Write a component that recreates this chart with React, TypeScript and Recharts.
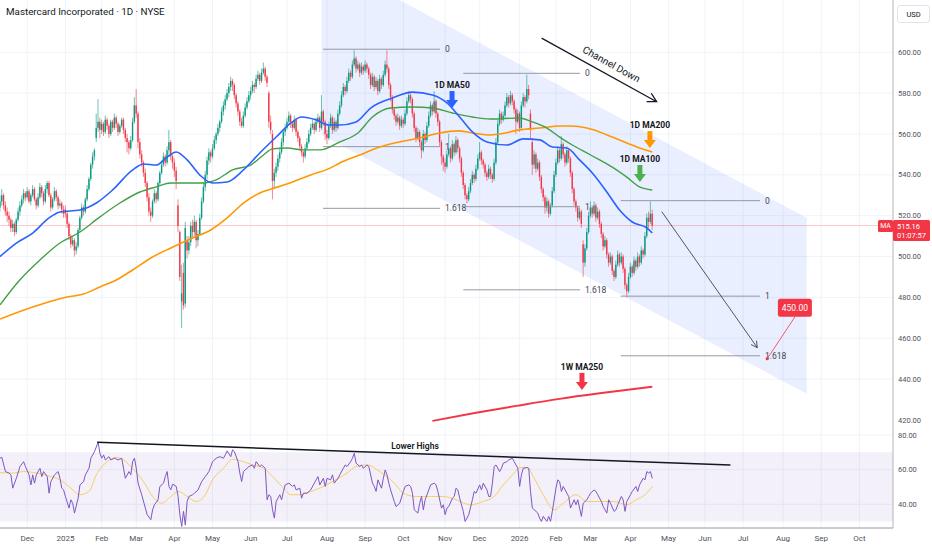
import React from "react";
import {
  ComposedChart,
  Bar,
  Line,
  Area,
  XAxis,
  YAxis,
  CartesianGrid,
  ReferenceLine,
  ReferenceDot,
  ReferenceArea,
} from "recharts";

type Candle = [number, number, number, number];

// daily candles [open, high, low, close], one array per month
const nov24: Candle[] = [
  [524,530,522,527],[527,533,525,530],[530,531,523,525],[525,527,520,522],[522,524,517,520],[520,522,515,518],[518,519,512,514],[514,518,512,516],[516,517,510,512],[512,519,511,518],[518,524,517,522],[522,527,520,525],[525,530,524,528],[528,533,526,531],[531,532,527,529],
];
const dec24: Candle[] = [
  [529,534,528,532],[532,533,526,527],[527,531,525,530],[530,535,529,533],[533,534,527,528],[528,529,523,525],[525,531,524,529],[529,536,528,534],[534,535,529,531],[531,532,525,527],[527,535,526,533],[533,537,531,536],[536,537,529,530],[530,531,522,524],[524,529,523,528],[528,534,527,532],[532,533,527,529],[529,530,523,525],[525,528,524,526],[526,527,521,523],[523,525,519,521],
];
const jan25: Candle[] = [
  [523,525,519,521],[521,522,514,516],[516,517,508,510],[510,511,504,506],[506,510,505,508],[508,509,500,503],[503,507,501,505],[505,514,504,513],[513,520,512,519],[519,526,518,524],[524,525,520,522],[522,529,521,528],[528,535,527,533],[533,539,532,538],[538,546,537,545],[545,551,543,549],[549,553,547,552],[558,570,556,563],[563,577,561,566],[566,568,558,562],
];
const feb25: Candle[] = [
  [562,567,560,565],[565,566,559,561],[561,569,560,567],[567,568,562,564],[564,565,558,560],[560,567,559,566],[566,567,561,563],[563,570,562,568],[568,569,563,565],[565,566,559,561],[561,565,560,564],[564,568,563,567],[567,568,560,562],[562,563,556,558],[558,560,551,556],[556,557,550,553],[553,559,552,557],[557,568,556,566],[566,578,565,574],
];
const mar25: Candle[] = [
  [574,582,568,570],[570,571,553,556],[556,558,548,550],[550,552,544,546],[546,547,539,541],[541,543,534,536],[536,537,527,529],[529,531,520,522],[522,524,517,520],[520,528,519,527],[527,533,526,531],[531,532,526,528],[528,537,527,536],[536,542,535,541],[541,547,540,545],[545,551,544,549],[549,550,544,546],[546,554,545,552],[552,562,550,556],[556,557,547,549],[549,550,543,546],
];
const apr25: Candle[] = [
  [546,548,539,542],[542,544,533,537],[525,528,512,515],[512,513,488,490],[478,496,465,482],[492,497,474,476],[477,517,475,514],[508,510,499,503],[503,510,501,507],[507,517,505,515],[515,518,509,512],[512,520,510,517],[517,518,504,508],[508,513,505,511],[511,521,510,519],[519,529,518,527],[527,536,526,534],[534,542,532,540],[540,549,538,547],[547,553,545,551],[551,552,546,549],
];
const may25: Candle[] = [
  [549,555,548,553],[553,559,552,557],[557,561,555,560],[560,565,559,563],[563,567,561,566],[566,573,565,571],[571,576,569,574],[574,579,572,577],[577,582,576,580],[580,585,578,583],[583,588,581,586],[586,587,581,584],[584,585,577,579],[579,580,573,575],[575,576,569,571],[571,572,564,566],[566,568,563,564],[564,571,563,569],[569,575,568,573],[573,578,572,576],[576,581,575,579],
];
const jun25: Candle[] = [
  [579,583,577,581],[581,586,580,584],[584,585,580,583],[583,589,582,587],[587,591,586,589],[589,590,584,586],[586,592,585,590],[590,595,589,592],[592,593,586,588],[588,589,583,585],[580,581,563,566],[566,569,560,562],[560,562,528,537],[537,543,533,541],[541,546,539,544],[544,550,542,548],[548,553,546,551],[551,558,550,556],[556,562,554,561],[561,565,559,563],
];
const jul25: Candle[] = [
  [563,568,562,566],[566,571,565,569],[569,570,563,565],[565,566,561,563],[563,569,562,567],[567,568,559,561],[561,562,556,558],[558,559,552,554],[554,555,549,551],[551,552,546,549],[549,555,548,553],[553,558,552,556],[556,562,555,560],[560,565,559,563],[563,567,562,565],[565,566,560,562],[562,568,561,566],[566,570,565,568],[568,569,561,563],[563,579,562,571],[571,572,564,566],[566,567,557,560],
];
const aug25: Candle[] = [
  [560,562,555,558],[558,566,557,564],[564,570,563,568],[568,569,560,562],[562,568,561,566],[566,567,561,563],[563,572,562,570],[570,576,569,574],[574,581,573,579],[579,585,578,583],[583,584,579,581],[581,588,580,586],[586,592,585,590],[590,591,586,588],[588,596,587,594],[594,601,593,597],[597,598,590,592],[592,596,591,594],[594,595,588,590],[590,595,589,593],[593,594,589,591],
];
const sep25: Candle[] = [
  [591,596,590,594],[594,595,590,592],[592,593,587,589],[589,590,582,584],[584,590,583,588],[588,589,581,583],[583,588,582,586],[586,587,579,581],[581,589,580,587],[587,588,582,584],[584,591,583,589],[589,596,588,594],[594,601,590,592],[592,593,582,584],[584,585,576,578],[578,579,570,572],[572,573,567,569],[569,570,564,566],[566,570,565,568],[568,569,562,564],[564,569,563,567],
];
const oct25: Candle[] = [
  [567,568,563,565],[565,572,564,570],[570,578,569,576],[576,581,575,579],[579,580,575,577],[577,578,568,570],[570,571,561,563],[563,564,556,558],[558,563,557,561],[561,562,554,556],[556,557,548,552],[552,562,551,560],[560,561,555,557],[557,566,556,564],[564,571,563,569],[569,576,568,574],[574,575,569,571],[571,581,570,576],[576,577,568,570],[570,571,564,566],[566,567,554,556],[556,557,545,549],[549,550,542,546],
];
const nov25: Candle[] = [
  [546,548,541,544],[544,552,543,550],[550,560,549,553],[553,554,546,548],[548,557,547,555],[555,556,549,551],[551,559,550,557],[557,558,551,553],[553,554,546,548],[548,549,539,541],[541,542,533,535],[535,536,528,530],[530,531,526,528],[528,534,527,532],[532,538,531,536],[536,542,535,540],[540,541,536,538],[538,545,537,543],[543,550,542,548],
];
const dec25: Candle[] = [
  [548,556,547,551],[551,552,545,547],[547,548,543,545],[545,546,539,541],[541,542,537,539],[539,545,538,543],[543,544,538,540],[540,541,536,538],[538,548,537,546],[546,558,545,556],[556,567,555,565],[565,572,564,570],[570,571,565,567],[567,571,566,569],[569,576,568,574],[574,580,573,578],[578,579,573,575],[575,581,574,579],[579,580,574,576],[576,577,570,572],[572,573,560,566],[566,572,565,570],
];
const jan26: Candle[] = [
  [570,571,561,563],[563,576,562,574],[574,580,573,578],[578,579,573,576],[576,589,575,582],[582,584,577,579],[570,572,558,562],[556,558,540,545],[545,552,543,550],[550,551,541,543],[543,548,542,546],[546,547,537,539],[539,540,531,533],[533,534,527,529],[529,530,521,524],[524,529,522,527],[527,528,519,521],[521,526,520,525],[525,534,524,532],[532,542,531,540],
];
const feb26: Candle[] = [
  [540,548,539,546],[546,554,545,552],[552,553,546,548],[548,559,547,555],[555,556,548,550],[550,551,544,546],[546,554,545,552],[552,553,546,548],[548,549,539,541],[541,542,531,533],[533,534,525,527],[527,528,522,524],[524,525,517,519],[519,524,518,522],[522,523,514,516],[506,508,490,497],[497,506,495,504],[504,514,503,512],[512,522,511,520],
];
const mar26: Candle[] = [
  [520,527,519,524],[524,525,519,521],[521,527,520,525],[525,526,517,519],[519,524,518,522],[522,523,514,516],[516,517,509,511],[511,512,503,505],[505,510,504,508],[508,509,499,501],[501,502,495,497],[497,502,496,500],[500,501,491,493],[493,494,488,490],[490,498,489,496],[496,503,495,501],[501,502,495,497],[497,502,496,500],[500,501,492,494],[494,495,484,486],[486,487,480,483],[483,492,482,490],
];
const apr26: Candle[] = [
  [490,497,489,495],[495,496,490,492],[492,500,491,498],[498,499,493,495],[495,502,494,500],[500,501,495,497],[497,505,496,503],[503,504,499,501],[501,512,500,510],[510,521,509,519],[519,522,514,517],[517,527,516,521],[521,523,513,515.16],
];

const candles: Candle[] = [
  ...nov24, ...dec24, ...jan25, ...feb25, ...mar25, ...apr25, ...may25, ...jun25, ...jul25,
  ...aug25, ...sep25, ...oct25, ...nov25, ...dec25, ...jan26, ...feb26, ...mar26, ...apr26,
];

// moving averages as [bar, value]
const ma50 = [
  [0,500.0],[9,506.6],[18,511.5],[27,518.9],[33,521.8],[44,522.8],[53,526.2],[62,532.6],[73,542.4],[79,545.3],[86,544.8],[92,548.7],[97,551.2],[103,547.3],[110,539.9],[117,536.0],[125,536.5],[134,542.4],[143,550.7],[152,558.5],[160,565.3],[166,568.3],[174,566.9],[181,564.4],[187,564.4],[196,565.9],[204,572.7],[216,577.6],[227,580.5],[238,579.1],[246,575.2],[253,568.3],[260,561.0],[268,556.1],[279,554.6],[288,557.6],[297,557.1],[304,553.6],[312,553.1],[319,547.3],[326,540.9],[334,531.6],[341,522.8],[348,516.9],[356,514.0],[359,511.5],
];
const ma100 = [
  [0,476.3],[11,488.6],[22,498.3],[33,506.6],[44,512.0],[55,519.4],[66,526.2],[77,531.6],[86,534.1],[94,536.0],[104,536.0],[112,536.0],[119,537.5],[128,542.4],[138,544.8],[145,549.7],[150,552.7],[158,553.1],[167,552.2],[176,552.2],[187,556.1],[197,560.5],[205,568.3],[215,572.7],[227,573.2],[238,572.7],[249,570.3],[260,568.3],[270,567.3],[286,567.8],[293,565.9],[301,562.9],[308,558.5],[315,554.6],[323,550.7],[330,547.3],[337,543.8],[345,538.9],[352,534.1],[359,532.6],
];
const ma200 = [
  [0,469.4],[18,475.3],[37,480.2],[46,481.6],[55,485.1],[64,488.5],[73,493.4],[83,499.3],[94,504.2],[106,509.1],[116,513.0],[125,518.9],[134,526.2],[143,531.1],[153,534.1],[161,536.5],[171,539.9],[182,543.4],[187,545.8],[198,549.7],[209,553.6],[220,556.1],[231,558.0],[242,560.5],[252,561.5],[260,560.5],[270,559.5],[275,560.0],[286,562.0],[297,562.9],[308,563.9],[315,563.9],[323,562.9],[330,561.0],[337,558.5],[345,555.6],[352,553.1],[359,551.2],
];
const ma250w = [
  [238,419.5],[262,423.5],[285,427.0],[308,430.3],[330,433.0],[359,436.2],
];

// RSI(14) and its moving average as [bar, value]
const rsi = [
  [0,66.6],[1,67.1],[3,58.9],[5,58],[6,57],[7,49.3],[9,55],[11,61.8],[13,64.6],[14,61.8],[16,57],[17,51.2],[18,57],[19,52.2],[20,57],[22,60.8],[23,56],[24,58.9],[26,56],[27,46.4],[28,53.1],[30,57],[32,58.9],[33,55],[34,49.3],[35,48.3],[36,44.5],[38,37.8],[39,42.6],[40,40.6],[41,34.9],[43,43.5],[44,51.2],[46,53.1],[47,57],[49,60.8],[50,66.6],[51,68.5],[52,70.4],[54,75.8],[55,69.4],[56,66.6],[57,68.5],[58,65.6],[60,67.5],[61,65.6],[63,66.6],[65,65.6],[67,66.6],[68,60.8],[69,55],[71,58.9],[72,57],[73,64.6],[74,66.6],[75,60.8],[76,52.2],[78,45.5],[80,37.8],[81,34],[83,31.1],[84,36.8],[85,39.7],[87,42.6],[88,50.3],[90,52.2],[91,56],[92,58.9],[93,50.3],[94,48.3],[95,51.6],[97,50.3],[98,44.5],[99,34],[100,27.2],[101,35.9],[102,28],[103,41.6],[104,44.5],[106,45.5],[107,46.4],[109,48.3],[111,53.1],[113,56],[115,58.9],[116,61.8],[117,64.6],[119,66.6],[121,67.5],[123,66.6],[124,68.5],[125,70.8],[127,67.5],[128,71.4],[129,70.4],[131,64.6],[132,58],[133,53.1],[134,58.9],[136,60.8],[137,61.8],[139,62.7],[140,60.8],[141,64.6],[143,61.8],[144,62.7],[146,60.8],[147,42.6],[148,45.5],[149,44.5],[150,36.8],[151,32],[152,41.6],[154,45.5],[155,42.6],[156,47.4],[157,51.2],[159,52.2],[161,50.3],[162,51.2],[163,48.3],[165,49.3],[166,43.5],[167,46.4],[169,46.4],[171,48.3],[173,52.2],[174,54.1],[175,56],
  [176,51.2],[178,55],[179,50.3],[180,55],[182,54.1],[183,57],[184,52.2],[186,55],[187,57],[189,60.8],[190,62.7],[191,61.8],[193,64.6],[194,66.6],[195,69.4],[196,63.7],[198,61.8],[199,62.7],[200,60.8],[202,62.7],[203,61.8],[205,52.2],[206,50.3],[207,47.4],[208,54.1],[210,49.3],[211,55],[212,59.8],[213,57],[214,52.2],[215,48.3],[217,41.6],[218,38.7],[220,40.6],[222,47.4],[223,50.3],[225,51.2],[226,50.3],[227,46.4],[228,36.8],[230,34.9],[231,40.6],[232,44.5],[233,36.8],[234,42.6],[236,48.3],[237,51.2],[239,52.2],[240,51.2],[241,47.4],[243,37.8],[244,39.7],[245,34],[246,37.8],[247,38.7],[249,43.5],[250,44.5],[251,49.3],[252,48.3],[253,43.5],[255,35.9],[256,30.1],[257,32],[258,34],[260,42.6],[261,47.4],[262,46.4],[264,51.2],[265,48.3],[266,52.2],[268,48.3],[269,44.5],[270,44.5],[271,52.2],[272,61.8],[273,62.7],[275,58.9],[276,60.8],[277,63.7],[279,64.6],[280,65.6],[282,66.6],[283,64.6],[284,62.7],[285,60.8],[286,50.3],[287,57],[288,60.8],[290,61.2],[291,60.8],[292,47.4],[293,37.8],[295,35.9],[296,34.9],[297,32],[298,30.1],[299,33],[301,30.1],[302,33],[303,30.1],[304,35.9],[306,49.3],[307,54.1],[308,53.1],[309,47.4],[310,50.3],[312,46.4],[313,44.5],[314,37.8],[316,42.6],[317,39.7],[318,42.6],[320,33],[321,40.6],[323,42.6],[324,44.5],[325,46.4],[327,48.3],[328,47.4],[329,45.5],[331,41.6],[332,38.7],[334,34.9],[335,42.6],[336,40.6],[338,35.9],[339,36.8],[340,39.7],[342,44.5],[343,42.6],[344,35.9],[345,41.6],[347,45.5],[348,47.4],[350,50.3],[351,47.4],[352,51.2],[354,55],[355,54.1],[356,58.9],[357,58],[358,58.9],[359,55],
];
const rsiAvg = [
  [0,58.3],[7,58],[13,58.9],[20,58],[28,56],[33,54.1],[39,49.3],[44,45.5],[49,47.4],[53,57],[59,64.6],[64,67.1],[68,65.6],[73,60.8],[79,53.1],[84,44.5],[89,40.6],[94,44.5],[98,47.4],[103,44.5],[108,41.6],[113,45.5],[117,54.1],[123,60.8],[128,66],[134,64.6],[139,62.7],[145,60.8],[151,55],[156,49.3],[160,45.5],[165,45.5],[171,47.4],[176,49.3],[183,53.1],[191,58],[196,61.8],[202,62.7],[209,58.9],[217,52.2],[222,46.4],[229,44.5],[237,44.5],[244,44.5],[251,42.6],[259,39.7],[266,41.6],[272,44.5],[277,51.2],[283,58],[286,61.2],[290,61.2],[294,55],[299,45.5],[305,36.8],[310,40.6],[317,45.5],[323,41.6],[330,41.6],[338,41.6],[345,39.7],[350,42.6],[355,45.5],[359,50.3],
];

const monthTicks = [15, 36, 56, 75, 96, 117, 138, 158, 180, 201, 222, 245, 264, 286, 306, 325, 347, 368, 388, 409, 431, 452, 473];
const monthLabels = ["Dec", "2025", "Feb", "Mar", "Apr", "May", "Jun", "Jul", "Aug", "Sep", "Oct", "Nov", "Dec", "2026", "Feb", "Mar", "Apr", "May", "Jun", "Jul", "Aug", "Sep", "Oct"];
const priceTicks = [420, 440, 460, 480, 500, 520, 540, 560, 580, 600];
const rsiTicks = [40, 60, 80];

// drawn objects
const channelBars = [177, 444];
const channelUpper = [646, 518.9];
const channelLower = [559.6, 432.8];

const fibNames = ["0", "1", "1.618"];
const fibSets = [
  { from: 177.8, to: 242.2, levels: [601.5, 553.8, 523.6] },
  { from: 255.0, to: 319.2, levels: [589.7, 524.4, 483.7] },
  { from: 341.6, to: 418.3, levels: [527.35, 480.6, 451.4] },
];

const UP = "#089981";
const DOWN = "#f23645";
const BLUE = "#2962ff";
const GREEN = "#43a047";
const ORANGE = "#ff9800";
const INK = "#131722";
const GRID = "#f0f3fa";

const maTags = [
  { text: "1D MA50", bar: 248.8, price: 572.7, color: BLUE },
  { text: "1D MA200", bar: 357.7, price: 553.1, color: ORANGE },
  { text: "1D MA100", bar: 352.2, price: 536.5, color: "#4caf50" },
  { text: "1W MA250", bar: 320.3, price: 434.7, color: DOWN },
];

const lastPrice = 515.16;
const target = 450;
const X_MAX = 491.5;
const PRICE_DOMAIN = [418, 625.6];
const RSI_DOMAIN = [26.3, 86.35];

const rows: any[] = candles.map(([o, h, l, c], i) => ({ i, o, h, l, c, range: [l, h] }));
const putOn = (target: any[], pts: number[][], key: string) =>
  pts.forEach(([i, v]) => {
    target[i][key] = v;
  });
putOn(rows, ma50, "ma50");
putOn(rows, ma100, "ma100");
putOn(rows, ma200, "ma200");
putOn(rows, ma250w, "ma250w");

const rsiRows: any[] = candles.map((_, i) => ({ i }));
putOn(rsiRows, rsi, "rsi");
putOn(rsiRows, rsiAvg, "avg");

const channelRows = channelBars.map((i, k) => ({ i, band: [channelLower[k], channelUpper[k]] }));

const CandleShape = (p: any) => {
  const { x, y, width, height, payload } = p;
  if (!payload || !isFinite(y)) return <g />;
  const { o, h, l, c } = payload;
  const top = Math.min(y, y + height);
  const span = Math.abs(height);
  const py = (v: number) => top + ((h - v) / (h - l || 1)) * span;
  const cx = x + width / 2;
  const color = c >= o ? UP : DOWN;
  const bt = py(Math.max(o, c));
  const bb = py(Math.min(o, c));
  return (
    <g>
      <line x1={cx} x2={cx} y1={top} y2={top + span} stroke={color} strokeWidth={0.6} />
      <rect x={cx - 0.7} y={bt} width={1.4} height={Math.max(bb - bt, 0.6)} fill={color} />
    </g>
  );
};

const fibShape = (label: string) => (p: any) => (
  <g>
    <line x1={p.x1} y1={p.y1} x2={p.x2} y2={p.y2} stroke="#9598a1" strokeWidth={1} />
    <text x={p.x2 + 5} y={p.y2} dominantBaseline="central" fontSize={8.5} fill="#434651">
      {label}
    </text>
  </g>
);

const arrowShape = (color: string, width: number, head: number, text?: string) => (p: any) => {
  const { x1, y1, x2, y2 } = p;
  const a = Math.atan2(y2 - y1, x2 - x1);
  const arm = (s: number) => `${x2 - head * Math.cos(a + s)},${y2 - head * Math.sin(a + s)}`;
  const mx = (x1 + x2) / 2 + 8 * Math.cos(a) + 11 * Math.sin(a);
  const my = (y1 + y2) / 2 + 8 * Math.sin(a) - 11 * Math.cos(a);
  return (
    <g>
      <line x1={x1} y1={y1} x2={x2} y2={y2} stroke={color} strokeWidth={width} />
      <polyline points={`${arm(0.5)} ${x2},${y2} ${arm(-0.5)}`} fill="none" stroke={color} strokeWidth={width} />
      {text && (
        <text
          transform={`translate(${mx},${my}) rotate(${(a * 180) / Math.PI})`}
          textAnchor="middle"
          dominantBaseline="central"
          fontSize={10}
          fill={INK}
        >
          {text}
        </text>
      )}
    </g>
  );
};

const tagShape = (text: string, color: string) => (p: any) => {
  const { cx, cy } = p;
  return (
    <g>
      <text x={cx} y={cy - 23} textAnchor="middle" dominantBaseline="central" fontSize={8.5} fontWeight={700} fill={INK}>
        {text}
      </text>
      <rect x={cx - 2.5} y={cy - 17} width={5} height={10} fill={color} />
      <polygon points={`${cx - 6},${cy - 8} ${cx + 6},${cy - 8} ${cx},${cy}`} fill={color} />
    </g>
  );
};

const priceTagShape = (p: any) => {
  const { cx, cy } = p;
  return (
    <g>
      <rect x={cx - 15} y={cy - 5.6} width={15} height={12} fill={DOWN} rx={1.5} />
      <text x={cx - 7.5} y={cy + 0.6} textAnchor="middle" dominantBaseline="central" fontSize={7} fill="#fff">
        MA
      </text>
      <rect x={cx} y={cy - 5.6} width={37} height={21} fill={DOWN} rx={1.5} />
      <text x={cx + 4} y={cy + 1} dominantBaseline="central" fontSize={7.5} fill="#fff">
        {lastPrice.toFixed(2)}
      </text>
      <text x={cx + 4} y={cy + 10} dominantBaseline="central" fontSize={7.5} fill="#fff">
        01:07:57
      </text>
    </g>
  );
};

const targetTagShape = (p: any) => {
  const { cx, cy } = p;
  return (
    <g>
      <rect x={cx - 17} y={cy - 9} width={34} height={18} rx={2.5} fill={DOWN} />
      <text x={cx} y={cy + 0.5} textAnchor="middle" dominantBaseline="central" fontSize={8.5} fill="#fff">
        {target.toFixed(2)}
      </text>
    </g>
  );
};

const textShape = (text: string) => (p: any) => (
  <text x={p.cx} y={p.cy} textAnchor="middle" dominantBaseline="central" fontSize={8.5} fontWeight={600} fill={INK}>
    {text}
  </text>
);

const tickFont = { fontSize: 7.5, fill: "#50535e" };

export default function App() {
  return (
    <div
      style={{
        position: "absolute",
        left: 0,
        top: 0,
        width: 932,
        height: 550,
        background: "#fff",
        fontFamily: "Roboto, sans-serif",
        overflow: "hidden",
      }}
    >
      {/* channel + grid layer */}
      <div style={{ position: "absolute", left: 0, top: 0 }}>
        <ComposedChart width={932} height={424} data={channelRows} margin={{ top: 0, right: 39, left: 0, bottom: 0 }}>
          <CartesianGrid stroke={GRID} verticalValues={monthTicks} horizontalValues={priceTicks} />
          <XAxis type="number" dataKey="i" domain={[0, X_MAX]} allowDataOverflow hide />
          <YAxis type="number" domain={PRICE_DOMAIN} allowDataOverflow hide />
          <Area
            dataKey="band"
            type="linear"
            fill="#2962ff"
            fillOpacity={0.1}
            stroke="none"
            activeDot={false}
            isAnimationActive={false}
          />
        </ComposedChart>
      </div>

      {/* price layer */}
      <div style={{ position: "absolute", left: 0, top: 0 }}>
        <ComposedChart width={932} height={424} data={rows} margin={{ top: 0, right: 0, left: 0, bottom: 0 }}>
          <XAxis type="number" dataKey="i" domain={[0, X_MAX]} allowDataOverflow hide />
          <YAxis
            orientation="right"
            type="number"
            width={39}
            domain={PRICE_DOMAIN}
            allowDataOverflow
            ticks={priceTicks}
            interval={0}
            tickFormatter={(v: number) => v.toFixed(2)}
            tick={tickFont}
            tickLine={false}
            tickSize={3}
            tickMargin={2}
            axisLine={{ stroke: "#b2b5be" }}
          />
          <ReferenceLine y={lastPrice} stroke={DOWN} strokeOpacity={0.35} strokeWidth={0.8} />
          {fibSets.map((f, k) =>
            f.levels.map((lv, j) => (
              <ReferenceLine
                key={`fib-${k}-${j}`}
                segment={[
                  { x: f.from, y: lv },
                  { x: f.to, y: lv },
                ]}
                shape={fibShape(fibNames[j])}
              />
            ))
          )}
          <Bar dataKey="range" shape={CandleShape} barSize={2} isAnimationActive={false} />
          <Line dataKey="ma200" type="monotone" stroke={ORANGE} strokeWidth={1.6} dot={false} activeDot={false} connectNulls isAnimationActive={false} />
          <Line dataKey="ma100" type="monotone" stroke={GREEN} strokeWidth={1.4} dot={false} activeDot={false} connectNulls isAnimationActive={false} />
          <Line dataKey="ma50" type="monotone" stroke={BLUE} strokeWidth={1.6} dot={false} activeDot={false} connectNulls isAnimationActive={false} />
          <Line dataKey="ma250w" type="monotone" stroke={DOWN} strokeWidth={2} dot={false} activeDot={false} connectNulls isAnimationActive={false} />
          <ReferenceLine
            segment={[
              { x: 298.1, y: 606.9 },
              { x: 361.4, y: 575.8 },
            ]}
            shape={arrowShape(INK, 1.3, 10, "Channel Down")}
          />
          <ReferenceLine
            segment={[
              { x: 364.2, y: 522.0 },
              { x: 416.8, y: 455.4 },
            ]}
            shape={arrowShape("#2a2e39", 0.8, 7)}
          />
          <ReferenceLine
            segment={[
              { x: 422.3, y: target },
              { x: 437.5, y: 470.4 },
            ]}
            stroke={DOWN}
            strokeWidth={0.8}
          />
          <ReferenceDot x={422.3} y={target} r={1.6} fill={DOWN} stroke="none" />
          <ReferenceDot x={437.5} y={474.9} shape={targetTagShape} />
          {maTags.map((t) => (
            <ReferenceDot key={t.text} x={t.bar} y={t.price} shape={tagShape(t.text, t.color)} />
          ))}
          <ReferenceDot x={X_MAX} y={lastPrice} shape={priceTagShape} ifOverflow="visible" />
        </ComposedChart>
      </div>

      {/* RSI pane */}
      <div style={{ position: "absolute", left: 0, top: 424 }}>
        <ComposedChart width={932} height={126} data={rsiRows} margin={{ top: 0, right: 0, left: 0, bottom: 0 }}>
          <CartesianGrid stroke={GRID} verticalValues={monthTicks} horizontalValues={rsiTicks} />
          <ReferenceArea y1={30} y2={70} fill="#7e57c2" fillOpacity={0.09} stroke="none" />
          <XAxis
            type="number"
            dataKey="i"
            domain={[0, X_MAX]}
            allowDataOverflow
            ticks={monthTicks}
            interval={0}
            tickFormatter={(v: number) => monthLabels[monthTicks.indexOf(v)] ?? ""}
            height={22}
            tick={{ fontSize: 8, fill: "#50535e" }}
            tickLine={false}
            tickSize={4}
            tickMargin={3}
            axisLine={{ stroke: "#9598a1" }}
          />
          <YAxis
            orientation="right"
            type="number"
            width={39}
            domain={RSI_DOMAIN}
            allowDataOverflow
            ticks={rsiTicks}
            interval={0}
            tickFormatter={(v: number) => v.toFixed(2)}
            tick={tickFont}
            tickLine={false}
            tickSize={3}
            tickMargin={2}
            axisLine={{ stroke: "#b2b5be" }}
          />
          <Line dataKey="avg" type="monotone" stroke="#f2c94c" strokeOpacity={0.85} strokeWidth={1} dot={false} activeDot={false} connectNulls isAnimationActive={false} />
          <Line dataKey="rsi" type="linear" stroke="#7e57c2" strokeWidth={1} dot={false} activeDot={false} connectNulls isAnimationActive={false} />
          <ReferenceLine
            segment={[
              { x: 53.5, y: 75.8 },
              { x: 402, y: 62.7 },
            ]}
            stroke={INK}
            strokeWidth={1.5}
          />
          <ReferenceDot x={228.4} y={73.6} shape={textShape("Lower Highs")} />
        </ComposedChart>
      </div>

      {/* header */}
      <div style={{ position: "absolute", left: 6, top: 6, fontSize: 9.8, color: INK, whiteSpace: "nowrap" }}>
        Mastercard Incorporated · 1D · NYSE
      </div>
      <div
        style={{
          position: "absolute",
          left: 897,
          top: 5,
          width: 31,
          height: 16,
          border: "1px solid #e0e3eb",
          borderRadius: 3,
          fontSize: 7.5,
          color: INK,
          display: "flex",
          alignItems: "center",
          justifyContent: "center",
          background: "#fff",
        }}
      >
        USD
      </div>
    </div>
  );
}
